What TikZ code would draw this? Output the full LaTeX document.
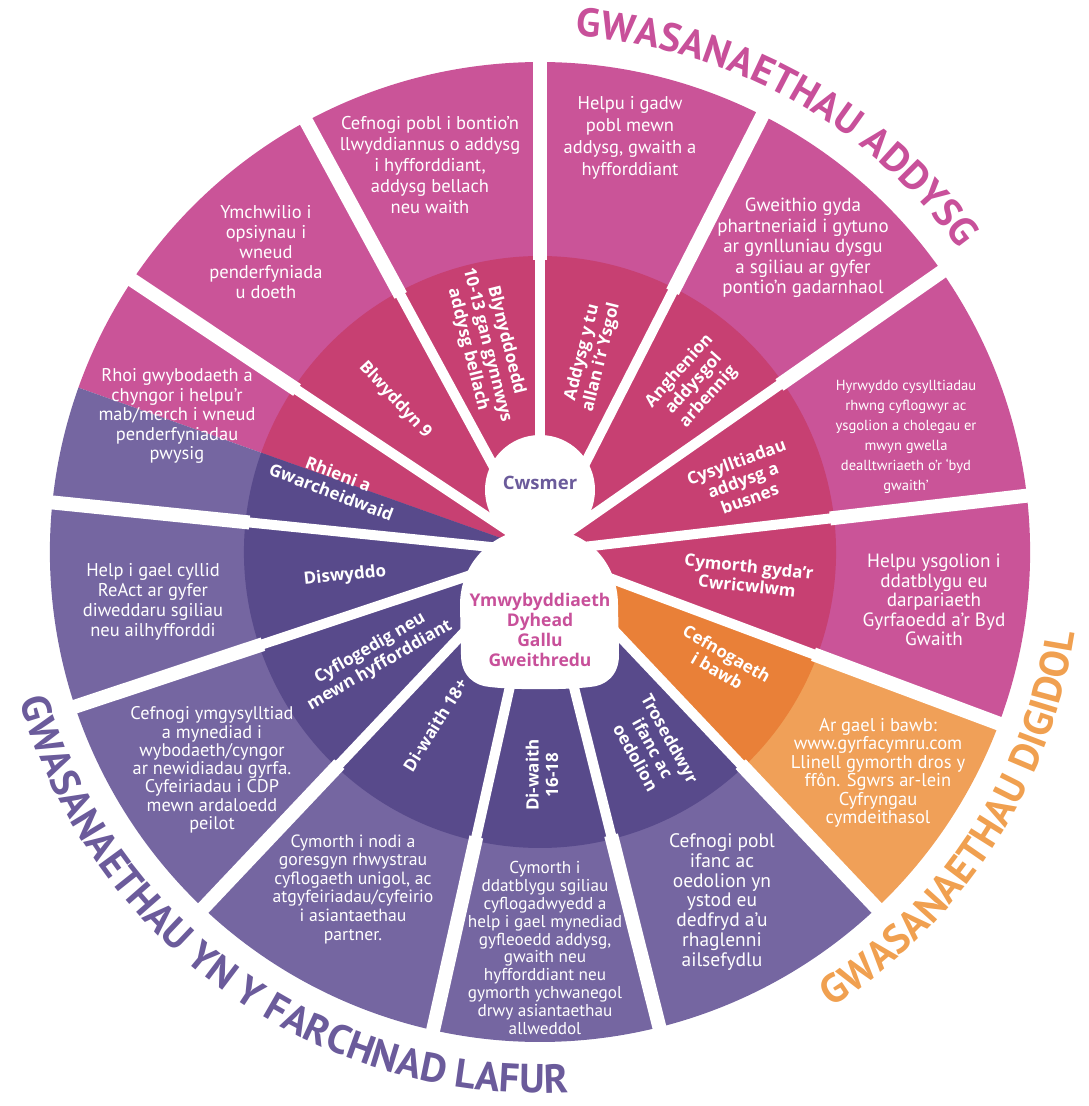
\documentclass[tikz,border=0pt]{standalone}
\usepackage{fontspec}
\setmainfont{PT Sans}
\newfontfamily\labfont{Open Sans}
\usetikzlibrary{decorations.text}
\definecolor{pinkO}{HTML}{CA5498}
\definecolor{pinkI}{HTML}{C74072}
\definecolor{purO}{HTML}{7566A1}
\definecolor{purI}{HTML}{584A8B}
\definecolor{orO}{HTML}{F0A058}
\definecolor{orI}{HTML}{E98038}
\definecolor{tPink}{HTML}{C8509A}
\definecolor{tOr}{HTML}{F0A050}
\definecolor{tPur}{HTML}{6B5B9B}
\begin{document}
\begin{tikzpicture}[x=1pt,y=1pt,
  otext/.style={text=white, align=center, inner sep=0pt},
  itext/.style={text=white, align=center, inner sep=0pt, font=\labfont\bfseries\fontsize{17}{19.5}\selectfont},
  spokein/.style={white, line width=10pt},
  spokeout/.style={white, line width=14pt},
]
\useasboundingbox (0,0) rectangle (1088,1106);
\begin{scope}[shift={(540,554)}]
  % outer ring
  \fill[pinkO] (0,0) -- (-20.5:490) arc[start angle=-20.5,end angle=160.4,radius=490] -- cycle;
  \fill[orO] (0,0) -- (-46.6:490) arc[start angle=-46.6,end angle=-20.5,radius=490] -- cycle;
  \fill[purO] (0,0) -- (160.4:490) arc[start angle=160.4,end angle=313.4,radius=490] -- cycle;
  % inner ring
  \fill[pinkI] (0,0) -- (-20.5:296) arc[start angle=-20.5,end angle=160.4,radius=296] -- cycle;
  \fill[orI] (0,0) -- (-46.6:296) arc[start angle=-46.6,end angle=-20.5,radius=296] -- cycle;
  \fill[purI] (0,0) -- (160.4:296) arc[start angle=160.4,end angle=313.4,radius=296] -- cycle;
  % spokes
  \foreach \a in {118.5,90,63,34.9,6.6,-20.5,-46.6,-75.9,-102.6,-133.4,-161.6,174.2,146.3} {
    \draw[spokein] (0,0) -- (\a:300);
    \draw[spokeout] (\a:292) -- (\a:500);
  }
  % centre figure
  \fill[white] (0,62) circle[radius=55];
  \fill[white] (0,24) .. controls (45,24) and (78,-9) .. (78,-53) -- (79,-103)
    .. controls (79,-124) and (65,-134) .. (50,-135)
    .. controls (25,-138) and (-25,-138) .. (-50,-135)
    .. controls (-65,-134) and (-79,-124) .. (-79,-103) -- (-80,-53)
    .. controls (-80,-9) and (-45,24) .. (0,24) -- cycle;
  % curved titles
  \path[decorate, decoration={text along path, text color=tPink, text align=center,
      text={|\bfseries\fontsize{40}{40}\selectfont|GWASANAETHAU ADDYSG}}]
    (101:517) arc[start angle=101, end angle=21, radius=517];
  \path[decorate, decoration={text along path, text color=tOr, text align=center,
      text={|\bfseries\fontsize{40.5}{40.5}\selectfont|GWASANAETHAU DIGIDOL}}]
    (-73:541) arc[start angle=-73, end angle=7, radius=541];
  \path[decorate, decoration={text along path, text color=tPur, text align=center,
      text={|\bfseries\fontsize{40.5}{40.5}\selectfont|GWASANAETHAU YN Y FARCHNAD LAFUR}}]
    (-180:541) arc[start angle=-180, end angle=-71, radius=541];
\end{scope}

% centre texts
\node[font=\labfont\bfseries\fontsize{18.5}{20}\selectfont, text=tPur] (cwsmer) at (540,623) {Cwsmer};
\node[font=\labfont\bfseries\fontsize{17.5}{20}\selectfont, text=tPink, align=center] (ymwy) at (540,476)
  {Ymwybyddiaeth\\Dyhead\\Gallu\\Gweithredu};

% outer texts
\node[otext, font=\fontsize{18.5}{21}\selectfont] (o1) at (430,941)
  {Cefnogi pobl i bontio’n\\llwyddiannus o addysg\\i hyfforddiant,\\addysg bellach\\neu waith};
\node[otext, font=\fontsize{18.5}{22}\selectfont] (o2) at (630,968)
  {Helpu i gadw\\pobl mewn\\addysg, gwaith a\\hyfforddiant};
\node[otext, font=\fontsize{19}{20.5}\selectfont] (o3) at (803,858)
  {Gweithio gyda\\phartneriaid i gytuno\\ar gynlluniau dysgu\\a sgiliau ar gyfer\\pontio’n gadarnhaol};
\node[otext, font=\fontsize{14.6}{20}\selectfont] (o4) at (906,669)
  {Hyrwyddo cysylltiadau\\rhwng cyflogwyr ac\\ysgolion a cholegau er\\mwyn gwella\\dealltwriaeth o’r ‘byd\\gwaith’};
\node[otext, font=\fontsize{19.2}{19.5}\selectfont] (o5) at (934,506)
  {Helpu ysgolion i\\ddatblygu eu\\darpariaeth\\Gyrfaoedd a’r Byd\\Gwaith};
\node[otext, font=\fontsize{18.5}{18.5}\selectfont] (o6) at (878,333)
  {Ar gael i bawb:\\www.gyrfacymru.com\\Llinell gymorth dros y\\ffôn. Sgwrs ar-lein\\Cyfryngau\\cymdeithasol};
\node[otext, font=\fontsize{19.5}{19.8}\selectfont] (o7) at (722,204)
  {Cefnogi pobl\\ifanc ac\\oedolion yn\\ystod eu\\dedfryd a’u\\rhaglenni\\ailsefydlu};
\node[otext, font=\fontsize{17.2}{17.9}\selectfont] (o8) at (545,158)
  {Cymorth i\\ddatblygu sgiliau\\cyflogadwyedd a\\help i gael mynediad\\gyfleoedd addysg,\\gwaith neu\\hyfforddiant neu\\gymorth ychwanegol\\drwy asiantaethau\\allweddol};
\node[otext, font=\fontsize{17.7}{18.6}\selectfont] (o9) at (353,217)
  {Cymorth i nodi a\\goresgyn rhwystrau\\cyflogaeth unigol, ac\\atgyfeiriadau/cyfeirio\\i asiantaethau\\partner.};
\node[otext, font=\fontsize{18.3}{18.3}\selectfont] (o10) at (212,336)
  {Cefnogi ymgysylltiad\\a mynediad i\\wybodaeth/cyngor\\ar newidiadau gyrfa.\\Cyfeiriadau i CDP\\mewn ardaloedd\\peilot};
\node[otext, font=\fontsize{18.5}{20}\selectfont] (o11) at (153,504)
  {Help i gael cyllid\\ReAct ar gyfer\\diweddaru sgiliau\\neu ailhyfforddi};
\node[otext, font=\fontsize{18.4}{19.5}\selectfont] (o12) at (177,690)
  {Rhoi gwybodaeth a\\chyngor i helpu’r\\mab/merch i wneud\\penderfyniadau\\pwysig};
\node[otext, font=\fontsize{18.5}{20}\selectfont] (o13) at (266,854)
  {Ymchwilio i\\opsiynau i\\wneud\\penderfyniada\\u doeth};

% inner labels
\node[itext, rotate=-76] (i1) at (487,761) {Blynyddoedd\\10-13 gan gynnwys\\addysg bellach};
\node[itext, rotate=76] (i2) at (592,751) {Addysg y tu\\allan i’r Ysgol};
\node[itext, rotate=48] (i3) at (694,722) {Anghenion\\addysgol\\arbennig};
\node[itext, rotate=20] (i4) at (743,626) {Cysylltiadau\\addysg a\\busnes};
\node[itext, rotate=-6] (i5) at (748,530) {Cymorth gyda’r\\Cwricwlwm};
\node[itext, rotate=-30] (i6) at (722,444) {Cefnogaeth\\i bawb};
\node[itext, rotate=-61] (i7) at (653,358) {Troseddwyr\\ifanc ac\\oedolion};
\node[itext, rotate=90] (i8) at (542,331) {Di-waith\\16-18};
\node[itext, rotate=58] (i9) at (435,381) {Di-waith 18+};
\node[itext, rotate=30] (i10) at (375,449) {Cyflogedig neu\\mewn hyfforddiant};
\node[itext, rotate=6] (i11) at (345,530) {Diswyddo};
\node[itext, rotate=-21] (i12) at (335,623) {Rhieni a\\Gwarcheidwaid};
\node[itext, rotate=-47] (i13) at (395,706) {Blwyddyn 9};
\end{tikzpicture}
\end{document}
